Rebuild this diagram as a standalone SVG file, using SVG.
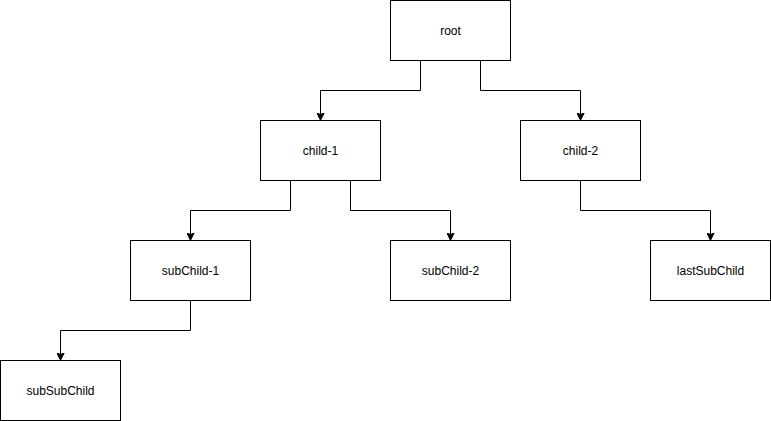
<svg xmlns="http://www.w3.org/2000/svg" width="771" height="421" viewBox="0 0 771 421">
<style>
.box{fill:#fff;stroke:#000;stroke-width:1}
.lbl{font-family:"Liberation Sans",Arial,sans-serif;font-size:12px;fill:#000;text-anchor:middle;dominant-baseline:central}
.edge{fill:none;stroke:#000;stroke-width:1}
</style>
<defs>
<marker id="arr" viewBox="0 0 10 10" refX="10" refY="5" markerWidth="8" markerHeight="8" markerUnits="userSpaceOnUse" orient="auto">
<path d="M0,0 L10,5 L0,10 L2.5,5 Z" fill="#000" stroke="#000"/>
</marker>
</defs>
<rect width="771" height="421" fill="#fff"/>
<g id="connectors">
<path class="edge" marker-end="url(#arr)" d="M420.5,60.5 V90.5 H320.5 V120.5"/>
<path class="edge" marker-end="url(#arr)" d="M480.5,60.5 V90.5 H580.5 V120.5"/>
<path class="edge" marker-end="url(#arr)" d="M290.5,180.5 V210.5 H190.5 V240.5"/>
<path class="edge" marker-end="url(#arr)" d="M350.5,180.5 V210.5 H450.5 V240.5"/>
<path class="edge" marker-end="url(#arr)" d="M580.5,180.5 V210.5 H710.5 V240.5"/>
<path class="edge" marker-end="url(#arr)" d="M190.5,300.5 V330.5 H60.5 V360.5"/>
</g>
<g id="root"><rect class="box" x="390.5" y="0.5" width="120" height="60"/><text class="lbl" x="450.5" y="30.5">root</text></g>
<g id="child-1"><rect class="box" x="260.5" y="120.5" width="120" height="60"/><text class="lbl" x="320.5" y="150.5">child-1</text></g>
<g id="child-2"><rect class="box" x="520.5" y="120.5" width="120" height="60"/><text class="lbl" x="580.5" y="150.5">child-2</text></g>
<g id="subChild-1"><rect class="box" x="130.5" y="240.5" width="120" height="60"/><text class="lbl" x="190.5" y="270.5">subChild-1</text></g>
<g id="subChild-2"><rect class="box" x="390.5" y="240.5" width="120" height="60"/><text class="lbl" x="450.5" y="270.5">subChild-2</text></g>
<g id="lastSubChild"><rect class="box" x="650.5" y="240.5" width="120" height="60"/><text class="lbl" x="710.5" y="270.5">lastSubChild</text></g>
<g id="subSubChild"><rect class="box" x="0.5" y="360.5" width="120" height="60"/><text class="lbl" x="60.5" y="390.5">subSubChild</text></g>
</svg>
